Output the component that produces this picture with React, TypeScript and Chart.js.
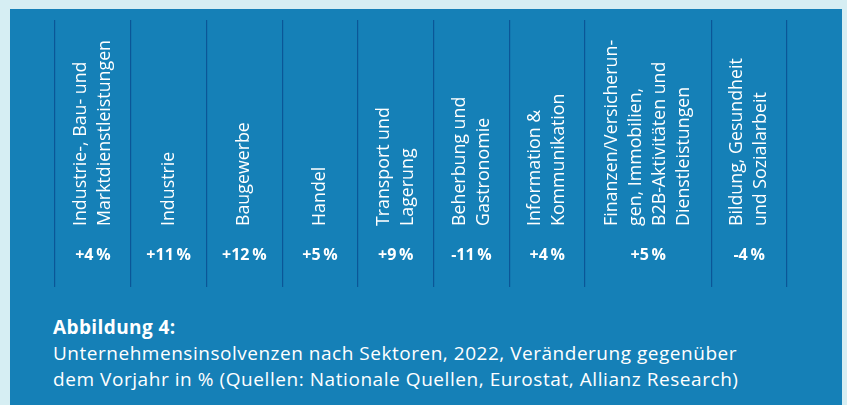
import React, { useEffect, useRef } from "react";
import { Chart, registerables } from "chart.js";

Chart.register(...registerables);

const categories: string[][] = [
  ["Industrie-, Bau- und", "Marktdienstleistungen"],
  ["Industrie"],
  ["Baugewerbe"],
  ["Handel"],
  ["Transport und", "Lagerung"],
  ["Beherbung und", "Gastronomie"],
  ["Information &", "Kommunikation"],
  ["Finanzen/Versicherun-", "gen, Immobilien,", "B2B-Aktivitäten und", "Dienstleistungen"],
  ["Bildung, Gesundheit", "und Sozialarbeit"],
];
const changePercent: number[] = [4, 11, 12, 5, 9, -11, 4, 5, -4];
// relative width of each column (layout)
const columnSpan: number[] = [1, 1, 1, 1, 1, 1, 1, 5 / 3, 1];

const captionTitle = "Abbildung 4:";
const captionLines = [
  "Unternehmensinsolvenzen nach Sektoren, 2022, Veränderung gegenüber",
  "dem Vorjahr in % (Quellen: Nationale Quellen, Eurostat, Allianz Research)",
];

const FONT = "'Open Sans', 'Noto Sans', sans-serif";
const PANEL = "#1580b7";
const OUTER = "#d6eef3";
const LINE = "#0b5697";

const boundaries: number[] = [0];
columnSpan.forEach((s, i) => boundaries.push(boundaries[i] + s));
const centers = columnSpan.map((s, i) => boundaries[i] + s / 2);

function fmt(v: number) {
  return (v > 0 ? "+" : "") + String(v) + "\u2009%";
}

const labelPlugin = {
  id: "sectorLabels",
  afterDatasetsDraw(chart: any) {
    const { ctx, chartArea } = chart;
    const xs = chart.scales.x;
    const meta = chart.getDatasetMeta(0);
    ctx.save();
    ctx.fillStyle = "#ffffff";
    const lineGap = 24;
    const labelStartY = chartArea.bottom - 61;
    const valueY = chartArea.bottom - 32;
    categories.forEach((lines, i) => {
      const cx = xs.getPixelForValue(centers[i]);
      ctx.font = `17.8px ${FONT}`;
      ctx.textAlign = "left";
      ctx.textBaseline = "middle";
      lines.forEach((ln, j) => {
        const lx = cx + (j - (lines.length - 1) / 2) * lineGap;
        ctx.save();
        ctx.translate(lx, labelStartY);
        ctx.rotate(-Math.PI / 2);
        ctx.fillText(ln, 0, 0);
        ctx.restore();
      });
      const el = meta.data[i];
      const raw = chart.data.datasets[0].data[i].v;
      ctx.font = `bold 16px ${FONT}`;
      ctx.textAlign = "center";
      ctx.textBaseline = "middle";
      ctx.fillText(fmt(raw), el.x, valueY);
    });
    ctx.restore();
  },
};

export default function App() {
  const ref = useRef<HTMLCanvasElement | null>(null);
  useEffect(() => {
    document.body.style.margin = "0";
    if (!ref.current) return;
    const chart = new Chart(ref.current, {
      type: "scatter",
      data: {
        datasets: [
          {
            data: changePercent.map((v, i) => ({ x: centers[i], y: 0, v })) as any,
            pointRadius: 0,
            pointHoverRadius: 0,
          },
        ],
      },
      options: {
        animation: false,
        responsive: false,
        events: [],
        layout: { padding: { left: 45, right: 55, top: 11, bottom: 22 } },
        plugins: { legend: { display: false }, tooltip: { enabled: false } },
        scales: {
          x: {
            type: "linear",
            min: 0,
            max: boundaries[boundaries.length - 1],
            afterBuildTicks: (scale: any) => {
              scale.ticks = boundaries.map((b) => ({ value: b }));
            },
            ticks: { display: false },
            grid: { color: LINE, lineWidth: 1.2, drawTicks: false },
            border: { display: false },
          },
          y: { display: false, min: -1, max: 1 },
        },
      },
      plugins: [labelPlugin],
    });
    return () => chart.destroy();
  }, []);

  return (
    <div style={{ position: "relative", width: 847, height: 405, background: OUTER, overflow: "hidden" }}>
      <div style={{ position: "absolute", left: 10, top: 9, width: 832, height: 396, background: PANEL }}>
        <canvas ref={ref} width={832} height={300} style={{ position: "absolute", left: 0, top: 0, width: 832, height: 300 }} />
        <div style={{ position: "absolute", left: 43, top: 305, color: "#fff", fontFamily: FONT, whiteSpace: "nowrap" }}>
          <div style={{ fontWeight: 700, fontSize: 19, lineHeight: "26px", letterSpacing: "0.4px" }}>{captionTitle}</div>
          {captionLines.map((l, i) => (
            <div key={i} style={{ fontSize: 19, lineHeight: "26px", letterSpacing: i === 0 ? "0.52px" : "0.56px" }}>{l}</div>
          ))}
        </div>
      </div>
    </div>
  );
}
